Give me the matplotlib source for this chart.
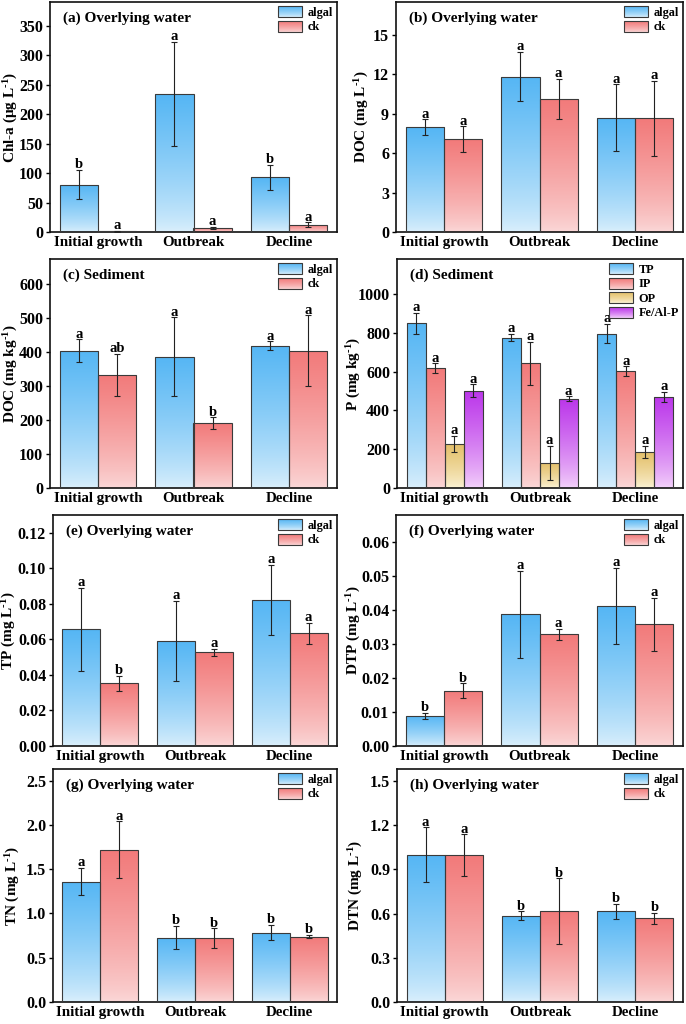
import numpy as np
import matplotlib
matplotlib.use("Agg")
import matplotlib.pyplot as plt
from matplotlib.colors import LinearSegmentedColormap
from matplotlib.legend_handler import HandlerBase
from matplotlib.image import BboxImage
from matplotlib.transforms import Bbox, TransformedBbox
from matplotlib.patches import Rectangle

plt.rcParams['font.family'] = ['Liberation Serif', 'DejaVu Serif']
plt.rcParams['font.weight'] = 'bold'
plt.rcParams['mathtext.fontset'] = 'custom'
plt.rcParams['mathtext.rm'] = 'Liberation Serif:bold'
plt.rcParams['mathtext.bf'] = 'Liberation Serif:bold'
plt.rcParams['mathtext.it'] = 'Liberation Serif:bold'

# ---------------- data ----------------
stages = ["Initial growth", "Outbreak", "Decline"]

# (a) Chl-a overlying water
chla_algal = [80.5, 234, 93]
chla_algal_err = [25, 88, 21]
chla_ck = [1.0, 6.8, 12.5]
chla_ck_err = [1.0, 2, 4]
chla_algal_sig = ["b", "a", "b"]
chla_ck_sig = ["a", "a", "a"]

# (b) DOC overlying water
docw_algal = [7.97, 11.83, 8.69]
docw_algal_err = [0.6, 1.9, 2.55]
docw_ck = [7.05, 10.12, 8.64]
docw_ck_err = [1.0, 1.55, 2.85]
docw_algal_sig = ["a", "a", "a"]
docw_ck_sig = ["a", "a", "a"]

# (c) DOC sediment
docs_algal = [404, 387, 419]
docs_algal_err = [34, 116, 13]
docs_ck = [334, 191, 405]
docs_ck_err = [62, 17, 104]
docs_algal_sig = ["a", "a", "a"]
docs_ck_sig = ["ab", "b", "a"]

# (d) P fractions sediment
p_names = ["TP", "IP", "OP", "Fe/Al-P"]
p_tp = [849, 775, 795]
p_tp_err = [54, 20, 50]
p_ip = [617, 643, 603]
p_ip_err = [26, 110, 24]
p_op = [228, 129, 187]
p_op_err = [40, 88, 31]
p_fe = [502, 460, 471]
p_fe_err = [32, 12, 26]
p_sig = [["a", "a", "a"], ["a", "a", "a"], ["a", "a", "a"], ["a", "a", "a"]]

# (e) TP overlying water
tp_algal = [0.0656, 0.0590, 0.0823]
tp_algal_err = [0.0233, 0.0227, 0.0197]
tp_ck = [0.0352, 0.0527, 0.0634]
tp_ck_err = [0.0042, 0.0021, 0.0061]
tp_algal_sig = ["a", "a", "a"]
tp_ck_sig = ["b", "a", "a"]

# (f) DTP overlying water
dtp_algal = [0.0089, 0.0388, 0.0412]
dtp_algal_err = [0.0009, 0.0128, 0.0112]
dtp_ck = [0.0163, 0.0329, 0.0359]
dtp_ck_err = [0.0022, 0.0016, 0.0078]
dtp_algal_sig = ["b", "a", "a"]
dtp_ck_sig = ["b", "a", "a"]

# (g) TN overlying water
tn_algal = [1.36, 0.728, 0.784]
tn_algal_err = [0.157, 0.13, 0.085]
tn_ck = [1.72, 0.72, 0.739]
tn_ck_err = [0.32, 0.11, 0.02]
tn_algal_sig = ["a", "b", "b"]
tn_ck_sig = ["a", "b", "b"]

# (h) DTN overlying water
dtn_algal = [1.0, 0.584, 0.615]
dtn_algal_err = [0.184, 0.03, 0.05]
dtn_ck = [0.995, 0.615, 0.568]
dtn_ck_err = [0.143, 0.224, 0.036]
dtn_algal_sig = ["a", "b", "b"]
dtn_ck_sig = ["a", "b", "b"]

# ---------------- styles ----------------
grad_colors = {
    "algal": ("#55b6f4", "#dcf0fc"),
    "ck": ("#f27a7a", "#fbd9d9"),
    "TP": ("#55b6f4", "#dcf0fc"),
    "IP": ("#f27a7a", "#fbd9d9"),
    "OP": ("#e3bf68", "#fcf4d8"),
    "Fe/Al-P": ("#bb36ea", "#f5d6fb"),
}
cmaps = {k: LinearSegmentedColormap.from_list(k, [v[1], v[0]]) for k, v in grad_colors.items()}
grad = np.linspace(0, 1, 256).reshape(-1, 1)
grad_img = np.power(grad, 0.75)

EDGE = "#3a3a3a"
W, H = 686, 1024


def gradient_bars(ax, bars, key):
    for p in bars:
        x, y = p.get_x(), p.get_y()
        w, h = p.get_width(), p.get_height()
        im = ax.imshow(grad_img, cmap=cmaps[key], origin="lower", aspect="auto",
                       extent=[x, x + w, y, y + h], zorder=1, interpolation="bicubic",
                       vmin=0, vmax=1)
        im.set_clip_path(p)


class GradHandler(HandlerBase):
    def create_artists(self, legend, orig_handle, xdescent, ydescent, width, height, fontsize, trans):
        key = orig_handle.get_label()
        bb = Bbox.from_bounds(-xdescent, -ydescent, width, height)
        tbb = TransformedBbox(bb, trans)
        img = BboxImage(tbb, cmap=cmaps[key], norm=plt.Normalize(0, 1), origin="lower",
                        interpolation="bicubic")
        img.set_data(grad_img)
        rect = Rectangle((-xdescent, -ydescent), width, height, facecolor="none",
                         edgecolor=EDGE, linewidth=0.8, transform=trans)
        return [img, rect]


def panel(ax, box, series, names, width, ylim, yticks, fmt, ylabel, title, label_px):
    x = np.arange(len(stages))
    n = len(series)
    handles = []
    for i, (vals, errs, sig) in enumerate(series):
        off = (i - (n - 1) / 2) * width
        bars = ax.bar(x + off, vals, width, facecolor="none", edgecolor=EDGE,
                      linewidth=0.8, zorder=3, label=names[i])
        gradient_bars(ax, bars, names[i])
        ax.errorbar(x + off, vals, yerr=errs, fmt="none", ecolor="#222222",
                    elinewidth=0.8, capsize=2.2, capthick=0.8, zorder=4)
        for xi, v, e, s in zip(x + off, vals, errs, sig):
            ax.annotate(s, (xi, v + e), xytext=(0, -1), textcoords="offset points",
                        ha="center", va="bottom", fontsize=10.5, fontweight="bold")
        proxy = Rectangle((0, 0), 1, 1, label=names[i])
        handles.append(proxy)
    ax.set_xlim(-0.5, 2.5)
    ax.set_ylim(*ylim)
    ax.set_yticks(yticks)
    ax.set_yticklabels([fmt.format(t) for t in yticks])
    ax.set_xticks(x)
    ax.set_xticklabels(stages)
    ax.tick_params(axis="x", length=0, labelsize=10.8, pad=3)
    ax.tick_params(axis="y", direction="out", length=3, width=1, labelsize=11.5, pad=2)
    for lab in ax.get_xticklabels() + ax.get_yticklabels():
        lab.set_fontweight("bold")
    for sp in ax.spines.values():
        sp.set_linewidth(1.2)
        sp.set_color("#111111")
    ax.set_ylabel(ylabel, fontsize=11, fontweight="bold")
    l, r = box[0], box[1]
    ax.yaxis.set_label_coords((label_px + 7 - l) / (r - l), 0.5)
    ax.text(0.045, 0.93, title, transform=ax.transAxes, fontsize=11,
            fontweight="bold", va="center", ha="left")
    leg = ax.legend(handles=handles, loc="upper right", frameon=False,
                    handler_map={Rectangle: GradHandler()}, fontsize=8.8,
                    handlelength=2.0, handleheight=1.0, labelspacing=0.15,
                    handletextpad=0.4, borderaxespad=0.15, borderpad=0.2)
    for t in leg.get_texts():
        t.set_fontweight("bold")


fig = plt.figure(figsize=(6.86, 10.24), dpi=100)

boxes = {
    "a": (50, 337, 2, 232),
    "b": (396, 683, 2, 232),
    "c": (50, 337, 259, 488),
    "d": (397, 683, 259, 488),
    "e": (53, 337, 515, 746),
    "f": (396, 683, 515, 746),
    "g": (53, 337, 769, 1002),
    "h": (397, 683, 769, 1002),
}
axs = {}
for k, (l, r, t, b) in boxes.items():
    axs[k] = fig.add_axes([l / W, 1 - b / H, (r - l) / W, (b - t) / H])

two = ["algal", "ck"]
SUP = r"$^{\text{-1}}$"

panel(axs["a"], boxes["a"], [(chla_algal, chla_algal_err, chla_algal_sig), (chla_ck, chla_ck_err, chla_ck_sig)],
      two, 0.4, (0, 390), np.arange(0, 351, 50), "{:.0f}",
      "Chl-a (μg L" + SUP + ")", "(a) Overlying water", 13)
panel(axs["b"], boxes["b"], [(docw_algal, docw_algal_err, docw_algal_sig), (docw_ck, docw_ck_err, docw_ck_sig)],
      two, 0.4, (0, 17.5), np.arange(0, 15.1, 3), "{:.0f}",
      "DOC (mg L" + SUP + ")", "(b) Overlying water", 364)
panel(axs["c"], boxes["c"], [(docs_algal, docs_algal_err, docs_algal_sig), (docs_ck, docs_ck_err, docs_ck_sig)],
      two, 0.4, (0, 675), np.arange(0, 601, 100), "{:.0f}",
      "DOC (mg kg" + SUP + ")", "(c) Sediment", 13)
panel(axs["d"], boxes["d"], [(p_tp, p_tp_err, p_sig[0]), (p_ip, p_ip_err, p_sig[1]),
             (p_op, p_op_err, p_sig[2]), (p_fe, p_fe_err, p_sig[3])],
      p_names, 0.2, (0, 1180), np.arange(0, 1001, 200), "{:.0f}",
      "P (mg kg" + SUP + ")", "(d) Sediment", 356)
panel(axs["e"], boxes["e"], [(tp_algal, tp_algal_err, tp_algal_sig), (tp_ck, tp_ck_err, tp_ck_sig)],
      two, 0.4, (0, 0.13), np.arange(0, 0.1201, 0.02), "{:.2f}",
      "TP (mg L" + SUP + ")", "(e) Overlying water", 11)
panel(axs["f"], boxes["f"], [(dtp_algal, dtp_algal_err, dtp_algal_sig), (dtp_ck, dtp_ck_err, dtp_ck_sig)],
      two, 0.4, (0, 0.068), np.arange(0, 0.0601, 0.01), "{:.2f}",
      "DTP (mg L" + SUP + ")", "(f) Overlying water", 356)
panel(axs["g"], boxes["g"], [(tn_algal, tn_algal_err, tn_algal_sig), (tn_ck, tn_ck_err, tn_ck_sig)],
      two, 0.4, (0, 2.63), np.arange(0, 2.51, 0.5), "{:.1f}",
      "TN (mg L" + SUP + ")", "(g) Overlying water", 15)
panel(axs["h"], boxes["h"], [(dtn_algal, dtn_algal_err, dtn_algal_sig), (dtn_ck, dtn_ck_err, dtn_ck_sig)],
      two, 0.4, (0, 1.58), np.arange(0, 1.51, 0.3), "{:.1f}",
      "DTN (mg L" + SUP + ")", "(h) Overlying water", 358)

fig.savefig("out.png", dpi=100)
